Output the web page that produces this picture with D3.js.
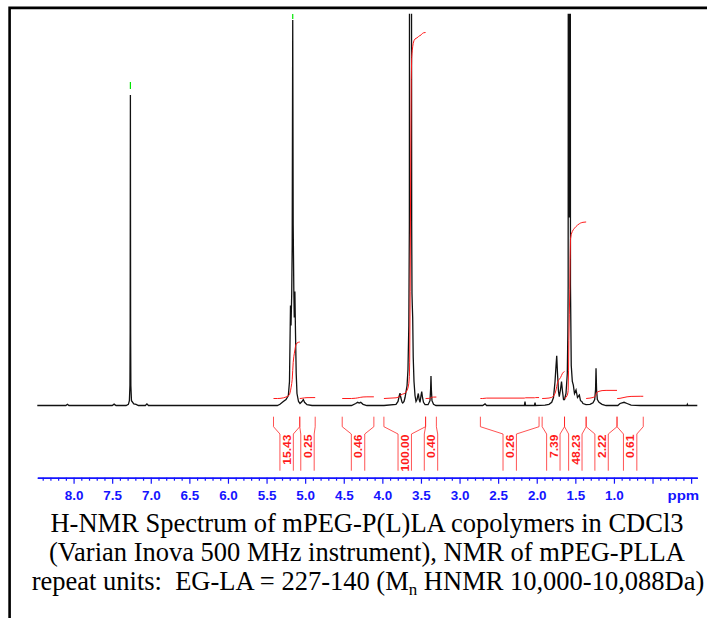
<!DOCTYPE html>
<html>
<head>
<meta charset="utf-8">
<script src="https://cdn.jsdelivr.net/npm/d3@7"></script>
<style>
  body { margin: 0; background: #fff; }
  svg { display: block; }
</style>
</head>
<body>
<div id="chart"></div>
<script>
// spectrum trace (ppm, intensity in a.u.)
const shiftPpm = [
  8.47, 8.10, 8.08, 8.06, 7.50, 7.475, 7.45, 7.32, 7.29, 7.277, 7.270, 7.267, 7.264, 7.261, 7.258, 7.25, 7.22, 7.19, 7.16,
  7.07, 7.05, 7.03,
  5.36, 5.326, 5.283, 5.248, 5.218, 5.203, 5.190, 5.183, 5.174, 5.168, 5.161, 5.155, 5.147, 5.141, 5.133, 5.125, 5.116,
  5.106, 5.086, 5.067, 5.041, 5.024, 5.008, 4.976, 4.911,
  4.40, 4.345, 4.32, 4.30, 4.28, 4.25, 4.20,
  3.979, 3.823, 3.797, 3.780, 3.771, 3.761, 3.745, 3.736, 3.719, 3.706, 3.693, 3.680, 3.668, 3.657, 3.650, 3.646,
  3.640, 3.632, 3.626, 3.620, 3.616, 3.612, 3.607, 3.600, 3.590, 3.577, 3.564, 3.551, 3.534, 3.523, 3.512, 3.499,
  3.490, 3.480, 3.467, 3.447, 3.408, 3.383, 3.375, 3.370, 3.365, 3.357, 3.337, 3.305,
  2.70, 2.67, 2.65, 2.16, 2.152, 2.145, 2.03, 2.022, 2.015,
  1.893, 1.841, 1.806, 1.783, 1.763, 1.750, 1.741, 1.731, 1.718, 1.708, 1.692, 1.679, 1.666, 1.653, 1.640, 1.621,
  1.604, 1.597, 1.593, 1.588, 1.584, 1.578, 1.572, 1.568, 1.563, 1.553, 1.539, 1.526, 1.511, 1.491, 1.472, 1.448,
  1.433, 1.417, 1.401,
  1.362, 1.310, 1.271, 1.249, 1.238, 1.232, 1.225, 1.215, 1.193, 1.154, 1.102,
  0.95, 0.921, 0.869, 0.830, 0.778, 0.66, 0.055, 0.049, 0.043, -0.08
];
const intensity = [
  0, 0, 0.3, 0, 0, 0.35, 0, 0, 0.3, 1.2, 5, 18, 77.6, 18, 5, 1.2, 0.4, 0.3, 0,
  0, 0.4, 0,
  0, 0.3, 1, 1.5, 2.5, 6, 25, 20, 28, 40, 96.4, 45, 29, 22, 28.5, 18, 8,
  3, 1, 0.5, 1, 1.5, 0.8, 0.2, 0,
  0, 0.5, 0.8, 0.6, 0.8, 0.3, 0,
  0, 0.3, 1, 2.5, 3.1, 2, 0.8, 0.6, 1, 2, 3.5, 5, 9, 20, 45, 200,
  600, 600, 200, 45, 28, 25, 22, 12, 6, 2.5, 1, 1.5, 3, 1.5, 0.8, 2.5,
  3.5, 2, 0.8, 0.2, 0.2, 1.2, 4, 7.4, 4, 1.2, 0.3, 0,
  0, 0.4, 0, 0, 1, 0, 0, 0.7, 0,
  0.1, 0.3, 0.8, 2, 6, 10, 12.4, 8, 3.5, 2.2, 4, 6, 3.5, 1.5, 1.5, 3,
  8, 18, 30, 300, 300, 47, 300, 300, 30, 10, 6, 5.1, 3, 3.9, 2, 2.6,
  1.2, 1, 0.5,
  0.2, 0.3, 0.7, 1.5, 4, 9.3, 4, 1.5, 0.8, 0.3, 0,
  0, 0.5, 0.8, 0.5, 0.1, 0, 0, 0.3, 0, 0
];

// integration regions (ppm) and their values
const integralFrom = [5.41, 5.07, 4.52, 3.98, 3.44, 2.73, 1.93, 1.64, 1.36, 0.96];
const integralTo = [5.07, 4.87, 4.11, 3.44, 3.30, 1.97, 1.64, 1.36, 0.96, 0.62];
const integralValues = [15.43, 0.25, 0.46, 100.00, 0.40, 0.26, 7.39, 48.23, 2.22, 0.61];

// peak picks (green marks)
const pickedPeaks = [7.264, 5.161];

// axis
const majorTicks = [8.0, 7.5, 7.0, 6.5, 6.0, 5.5, 5.0, 4.5, 4.0, 3.5, 3.0, 2.5, 2.0, 1.5, 1.0, 0.5, 0.0];
const tickLabels = ['8.0', '7.5', '7.0', '6.5', '6.0', '5.5', '5.0', '4.5', '4.0', '3.5', '3.0', '2.5', '2.0', '1.5', '1.0', '', ''];
const axisUnit = 'ppm';

const captionLines = [
  'H-NMR Spectrum of mPEG-P(L)LA copolymers in CDCl3',
  '(Varian Inova 500 MHz instrument), NMR of mPEG-PLLA'
];

const width = 707;
const height = 618;
const integralBase = 1.75;   // a.u. above baseline
const integralUnit = 0.915;  // a.u. per integral unit
const blue = '#1414ff';
const red = '#ff1a1a';

const svg = d3.select('#chart').append('svg')
  .attr('width', width)
  .attr('height', height);

// frame
svg.append('path')
  .attr('d', 'M9.6,618V7.9H707')
  .attr('fill', 'none')
  .attr('stroke', '#000')
  .attr('stroke-width', 2.6);

const x = d3.scaleLinear().domain([8.47, -0.08]).range([37.3, 697.3]);
const y = d3.scaleLinear().domain([0, 98]).range([405.5, 13.5]);

const spectrum = shiftPpm.map((p, i) => ({ ppm: p, val: intensity[i] }));

svg.append('clipPath').attr('id', 'clip')
  .append('rect')
  .attr('x', 36).attr('y', 13.8)
  .attr('width', 663).attr('height', 400);

const line = d3.line()
  .x((d) => x(d.ppm))
  .y((d) => y(d.val));

svg.append('path')
  .datum(spectrum)
  .attr('clip-path', 'url(#clip)')
  .attr('d', line)
  .attr('fill', 'none')
  .attr('stroke', '#111')
  .attr('stroke-width', 1.3);

// green peak marks
function valueAt(p) {
  const i = spectrum.findIndex((d) => d.ppm <= p);
  if (i <= 0) return spectrum[Math.max(i, 0)].val;
  const a = spectrum[i - 1], b = spectrum[i];
  return a.val + (b.val - a.val) * (a.ppm - p) / (a.ppm - b.ppm);
}

svg.selectAll('.pick')
  .data(pickedPeaks)
  .join('line')
  .attr('class', 'pick')
  .attr('x1', (d) => x(d)).attr('x2', (d) => x(d))
  .attr('y1', (d) => Math.max(y(valueAt(d)) - 13, 14))
  .attr('y2', (d) => Math.max(y(valueAt(d)) - 6, 19))
  .attr('stroke', '#00e600')
  .attr('stroke-width', 1.2);

// integral curves: cumulative area of the trace inside each region
const integrals = integralValues.map((v, i) => ({ value: v, from: integralFrom[i], to: integralTo[i] }));

integrals.forEach((r) => {
  const pts = [{ ppm: r.from, val: valueAt(r.from) }]
    .concat(spectrum.filter((d) => d.ppm < r.from && d.ppm > r.to))
    .concat([{ ppm: r.to, val: valueAt(r.to) }]);
  let acc = 0;
  const cum = [0];
  for (let i = 1; i < pts.length; i++) {
    acc += (pts[i - 1].ppm - pts[i].ppm) * (pts[i - 1].val + pts[i].val) / 2;
    cum.push(acc);
  }
  const total = acc || 1;
  r.curve = pts.map((p, i) => ({ ppm: p.ppm, val: integralBase + (cum[i] / total) * r.value * integralUnit }));
});

svg.selectAll('.integral')
  .data(integrals)
  .join('path')
  .attr('class', 'integral')
  .attr('d', (d) => line(d.curve))
  .attr('fill', 'none')
  .attr('stroke', red)
  .attr('stroke-width', 1);

// integral brackets and labels
const bTop = 416.7, bKnee = 426.7, bInner = 434, bBottom = 470.7, halfInner = 6.7;

const brackets = svg.append('g')
  .attr('fill', 'none')
  .attr('stroke', red)
  .attr('stroke-opacity', 0.75)
  .attr('stroke-width', 1);

integrals.forEach((r) => {
  const xl = x(r.from), xr = x(r.to), cx = (xl + xr) / 2;
  brackets.append('path')
    .attr('d', `M${xl},${bTop}V${bKnee}L${cx - halfInner},${bInner}V${bBottom}` +
      `M${xr},${bTop}V${bKnee}L${cx + halfInner},${bInner}V${bBottom}`);
});

svg.selectAll('.ilabel')
  .data(integrals)
  .join('text')
  .attr('class', 'ilabel')
  .attr('transform', (d) => `translate(${(x(d.from) + x(d.to)) / 2 + 4.2},${bInner + 0.5}) rotate(-90) scale(1.05,1)`)
  .attr('text-anchor', 'end')
  .attr('font-family', 'Liberation Sans, Arial, sans-serif')
  .attr('font-weight', 'bold')
  .attr('font-size', '11.5px')
  .attr('fill', red)
  .text((d) => d.value.toFixed(2));

// ppm axis
const axisY = 477.7;
const minorTicks = d3.range(84, -1, -1).map((d) => d / 10).filter((d) => Math.round(d * 10) % 5 !== 0);

const minorAxis = svg.append('g')
  .attr('transform', `translate(0,${axisY})`)
  .call(d3.axisBottom(x).tickValues(minorTicks).tickSize(3).tickSizeOuter(0).tickFormat(''));

const majorAxis = svg.append('g')
  .attr('transform', `translate(0,${axisY})`)
  .call(d3.axisBottom(x).tickValues(majorTicks).tickSize(6).tickSizeOuter(0)
    .tickFormat((d, i) => tickLabels[i]));

[minorAxis, majorAxis].forEach((g) => {
  g.select('.domain').attr('stroke', blue).attr('stroke-width', 1.5);
  g.selectAll('.tick line').attr('stroke', blue).attr('stroke-width', 1.2);
});

majorAxis.selectAll('.tick text')
  .attr('y', 22)
  .attr('dy', 0)
  .attr('transform', 'scale(1.12,1)')
  .attr('fill', blue)
  .attr('font-family', 'Liberation Sans, Arial, sans-serif')
  .attr('font-weight', 'bold')
  .attr('font-size', '12px');

svg.append('text')
  .attr('transform', `translate(683.3,${axisY + 22}) scale(1.2,1)`)
  .attr('text-anchor', 'middle')
  .attr('fill', blue)
  .attr('font-family', 'Liberation Sans, Arial, sans-serif')
  .attr('font-weight', 'bold')
  .attr('font-size', '12.5px')
  .text(axisUnit);

// caption
const caption = svg.append('g')
  .attr('font-family', 'Liberation Serif, Times New Roman, serif')
  .attr('font-size', '26.5px')
  .attr('fill', '#000')
  .attr('text-anchor', 'middle');

captionLines.forEach((t, i) => {
  caption.append('text')
    .attr('x', 367)
    .attr('y', 532 + i * 29)
    .text(t);
});

const last = caption.append('text')
  .attr('x', 368)
  .attr('y', 590)
  .style('white-space', 'pre');
last.append('tspan').text('repeat units:  EG-LA = 227-140 (M');
last.append('tspan').attr('font-size', '17px').attr('dy', 5).text('n');
last.append('tspan').attr('dy', -5).text(' HNMR 10,000-10,088Da)');
</script>
</body>
</html>
